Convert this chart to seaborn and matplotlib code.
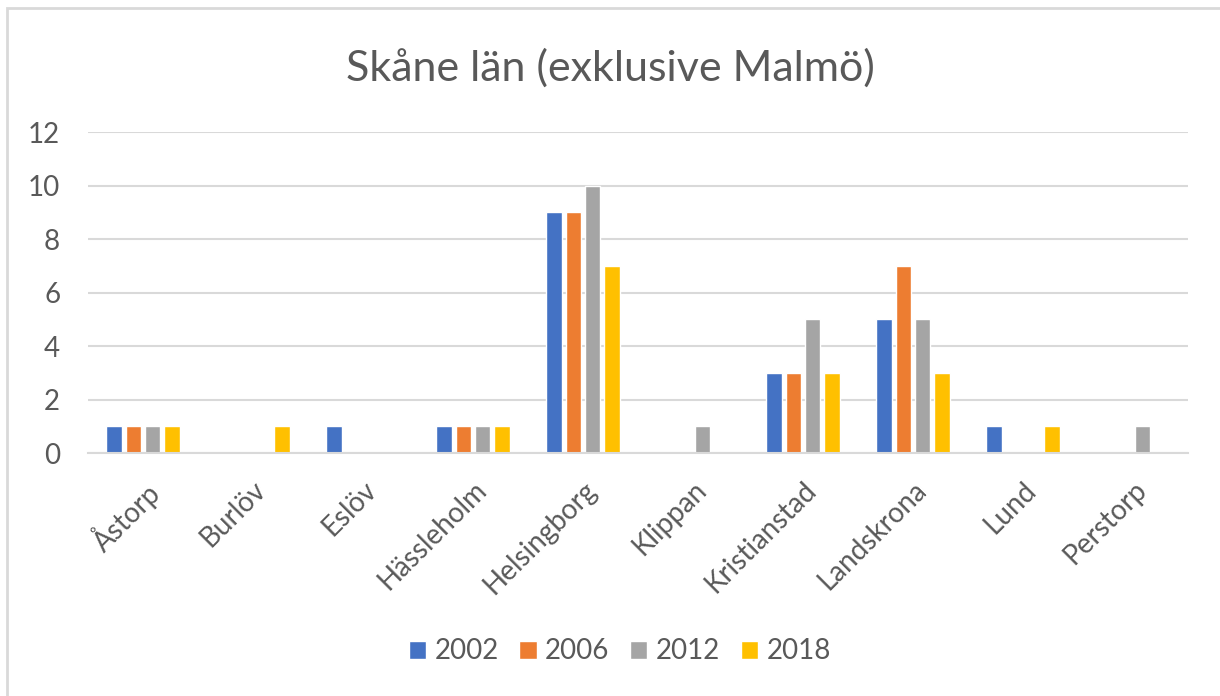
import pandas as pd
import matplotlib.pyplot as plt
import seaborn as sns
from matplotlib.patches import Rectangle

# Kommuner och antal per valår
kommuner = ["Åstorp", "Burlöv", "Eslöv", "Hässleholm", "Helsingborg",
            "Klippan", "Kristianstad", "Landskrona", "Lund", "Perstorp"]
ar = ["2002", "2006", "2012", "2018"]
v2002 = [1, 0, 1, 1, 9, 0, 3, 5, 1, 0]
v2006 = [1, 0, 0, 1, 9, 0, 3, 7, 0, 0]
v2012 = [1, 0, 0, 1, 10, 1, 5, 5, 0, 1]
v2018 = [1, 1, 0, 1, 7, 0, 3, 3, 1, 0]
farger = ["#4472C4", "#ED7D31", "#A5A5A5", "#FFC000"]

def build_df():
    rows = []
    for year, vals in zip(ar, [v2002, v2006, v2012, v2018]):
        for k, v in zip(kommuner, vals):
            rows.append({"kommun": k, "ar": year, "antal": v})
    return pd.DataFrame(rows)

def plot(df):
    sns.set_style("white")
    plt.rcParams['font.family'] = ['Lato', 'DejaVu Sans']
    textfarg = "#595959"
    gridfarg = "#D9D9D9"

    fig = plt.figure(figsize=(12.2, 6.96), dpi=100)
    ax = fig.add_axes([0.0721, 0.349, 0.9017, 0.4613])

    sns.barplot(data=df, x="kommun", y="antal", hue="ar", order=kommuner,
                hue_order=ar, palette=farger, width=0.7, gap=0.2,
                saturation=1, ax=ax, legend=True)

    ax.set_ylim(0, 12)
    ax.set_yticks(range(0, 13, 2))
    ax.set_xlim(-0.5, len(kommuner) - 0.5)
    ax.yaxis.grid(True, color=gridfarg, linewidth=1.5)
    ax.set_axisbelow(True)
    for s in ["top", "right", "left"]:
        ax.spines[s].set_visible(False)
    ax.spines["bottom"].set_color(gridfarg)
    ax.spines["bottom"].set_linewidth(1.5)
    ax.set_xlabel("")
    ax.set_ylabel("")
    ax.tick_params(axis="both", length=0, colors=textfarg, labelsize=20)
    ax.tick_params(axis="y", pad=20)
    ax.tick_params(axis="x", pad=17)
    plt.setp(ax.get_xticklabels(), rotation=45, ha="right",
             rotation_mode="anchor")
    for lbl in ax.get_xticklabels():
        lbl.set_color(textfarg)

    fig.suptitle("Skåne län (exklusive Malmö)", y=0.93, fontsize=31,
                 color=textfarg)

    handles, labels = ax.get_legend_handles_labels()
    ax.get_legend().remove()
    fig.legend(handles, labels, loc="center", bbox_to_anchor=(0.508, 0.064),
               ncol=4, frameon=False, fontsize=20, handlelength=0.62,
               handleheight=0.62, handletextpad=0.3, columnspacing=0.75,
               labelcolor=textfarg)

    fig.patches.append(Rectangle((7 / 1220, -0.1), 1.2, 1.1 - 8 / 696,
                                 transform=fig.transFigure, fill=False,
                                 edgecolor=gridfarg, linewidth=2))
    fig.savefig("out.png", dpi=100)

def main():
    df = build_df()
    plot(df)

if __name__ == "__main__":
    main()
